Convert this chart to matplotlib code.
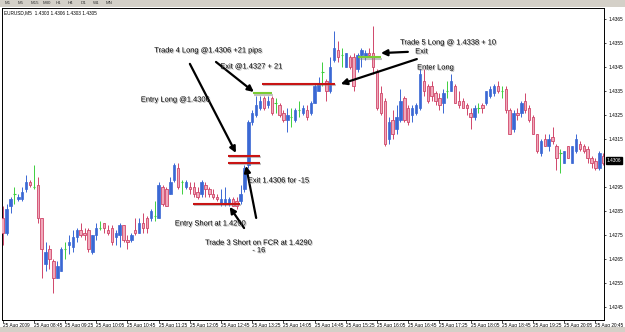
import matplotlib
matplotlib.use("Agg")
import matplotlib.pyplot as plt
import matplotlib.patheffects as pe
import matplotlib.transforms as mtransforms
from matplotlib.patches import Rectangle

plt.rcParams["font.family"] = ["Liberation Sans", "DejaVu Sans"]

# ---- EURUSD M5, 25 Aug 2009 ----
opens = [1.4282, 1.4276, 1.4287, 1.4292, 1.4290, 1.4290, 1.4294, 1.4297, 1.4295, 1.4296,
         1.4282, 1.4263, 1.4269, 1.4264, 1.4257, 1.4260, 1.4269, 1.4271, 1.4270, 1.4274,
         1.4277, 1.4276, 1.4277, 1.4268, 1.4275, 1.4278, 1.4280, 1.4277, 1.4278, 1.4274,
         1.4275, 1.4279, 1.4273, 1.4273, 1.4277, 1.4276, 1.4280, 1.4282, 1.4282, 1.4283,
         1.4282, 1.4295, 1.4294, 1.4292, 1.4298, 1.4303, 1.4297, 1.4295, 1.4295, 1.4295,
         1.4293, 1.4292, 1.4296, 1.4294, 1.4292, 1.4291, 1.4288, 1.4288, 1.4288, 1.4290,
         1.4289, 1.4289, 1.4294, 1.4304, 1.4322, 1.4325, 1.4328, 1.4332, 1.4329, 1.4332,
         1.4330, 1.4329, 1.4326, 1.4323, 1.4324, 1.4323, 1.4327, 1.4326, 1.4327, 1.4326,
         1.4330, 1.4335, 1.4343, 1.4339, 1.4335, 1.4348, 1.4352, 1.4350, 1.4345, 1.4349,
         1.4349, 1.4344, 1.4350, 1.4349, 1.4351, 1.4351, 1.4343, 1.4334, 1.4331, 1.4315,
         1.4323, 1.4319, 1.4323, 1.4332, 1.4328, 1.4325, 1.4326, 1.4328, 1.4339, 1.4337,
         1.4337, 1.4334, 1.4332, 1.4330, 1.4335, 1.4335, 1.4337, 1.4331, 1.4331, 1.4329,
         1.4326, 1.4324, 1.4328, 1.4329, 1.4330, 1.4333, 1.4334, 1.4337, 1.4335, 1.4336,
         1.4327, 1.4319, 1.4326, 1.4326, 1.4331, 1.4328, 1.4324, 1.4317, 1.4309, 1.4315,
         1.4312, 1.4316, 1.4312, 1.4309, 1.4305, 1.4312, 1.4305, 1.4310, 1.4313, 1.4312,
         1.4311, 1.4307, 1.4306, 1.4303, 1.4308]
highs = [1.4287, 1.4288, 1.4291, 1.4295, 1.4292, 1.4295, 1.4300, 1.4298, 1.4304, 1.4299,
         1.4282, 1.4272, 1.4271, 1.4265, 1.4264, 1.4270, 1.4272, 1.4275, 1.4277, 1.4278,
         1.4280, 1.4278, 1.4278, 1.4275, 1.4280, 1.4281, 1.4280, 1.4279, 1.4279, 1.4277,
         1.4280, 1.4279, 1.4275, 1.4276, 1.4282, 1.4282, 1.4284, 1.4283, 1.4286, 1.4289,
         1.4297, 1.4296, 1.4295, 1.4299, 1.4305, 1.4305, 1.4298, 1.4298, 1.4297, 1.4297,
         1.4295, 1.4298, 1.4297, 1.4295, 1.4294, 1.4292, 1.4294, 1.4295, 1.4291, 1.4291,
         1.4291, 1.4296, 1.4304, 1.4323, 1.4327, 1.4333, 1.4333, 1.4333, 1.4333, 1.4333,
         1.4332, 1.4330, 1.4327, 1.4328, 1.4328, 1.4328, 1.4331, 1.4329, 1.4329, 1.4331,
         1.4338, 1.4341, 1.4347, 1.4340, 1.4349, 1.4360, 1.4356, 1.4353, 1.4351, 1.4350,
         1.4351, 1.4351, 1.4353, 1.4352, 1.4353, 1.4362, 1.4344, 1.4337, 1.4332, 1.4324,
         1.4327, 1.4329, 1.4336, 1.4333, 1.4329, 1.4329, 1.4330, 1.4344, 1.4344, 1.4338,
         1.4339, 1.4335, 1.4334, 1.4336, 1.4339, 1.4342, 1.4338, 1.4335, 1.4332, 1.4330,
         1.4328, 1.4329, 1.4330, 1.4330, 1.4335, 1.4337, 1.4338, 1.4339, 1.4337, 1.4337,
         1.4328, 1.4327, 1.4328, 1.4331, 1.4334, 1.4329, 1.4325, 1.4317, 1.4315, 1.4317,
         1.4317, 1.4320, 1.4313, 1.4311, 1.4310, 1.4312, 1.4312, 1.4317, 1.4314, 1.4313,
         1.4312, 1.4308, 1.4307, 1.4310, 1.4309]
lows = [1.4271, 1.4275, 1.4284, 1.4288, 1.4289, 1.4289, 1.4293, 1.4295, 1.4294, 1.4280,
        1.4257, 1.4260, 1.4261, 1.4251, 1.4257, 1.4260, 1.4265, 1.4267, 1.4268, 1.4272,
        1.4274, 1.4273, 1.4268, 1.4267, 1.4273, 1.4277, 1.4276, 1.4275, 1.4271, 1.4271,
        1.4270, 1.4272, 1.4269, 1.4272, 1.4275, 1.4276, 1.4276, 1.4276, 1.4281, 1.4281,
        1.4282, 1.4287, 1.4287, 1.4292, 1.4297, 1.4294, 1.4292, 1.4294, 1.4292, 1.4291,
        1.4290, 1.4291, 1.4291, 1.4291, 1.4290, 1.4289, 1.4287, 1.4287, 1.4287, 1.4287,
        1.4286, 1.4288, 1.4293, 1.4303, 1.4321, 1.4324, 1.4327, 1.4327, 1.4328, 1.4325,
        1.4326, 1.4324, 1.4322, 1.4318, 1.4320, 1.4322, 1.4324, 1.4325, 1.4323, 1.4325,
        1.4330, 1.4335, 1.4337, 1.4331, 1.4334, 1.4347, 1.4347, 1.4345, 1.4345, 1.4344,
        1.4335, 1.4343, 1.4345, 1.4348, 1.4349, 1.4342, 1.4327, 1.4325, 1.4312, 1.4313,
        1.4315, 1.4317, 1.4322, 1.4322, 1.4321, 1.4322, 1.4325, 1.4327, 1.4333, 1.4330,
        1.4331, 1.4329, 1.4327, 1.4326, 1.4332, 1.4335, 1.4330, 1.4328, 1.4328, 1.4325,
        1.4319, 1.4323, 1.4326, 1.4326, 1.4329, 1.4332, 1.4333, 1.4334, 1.4332, 1.4326,
        1.4317, 1.4318, 1.4323, 1.4324, 1.4326, 1.4322, 1.4317, 1.4309, 1.4308, 1.4312,
        1.4310, 1.4313, 1.4302, 1.4301, 1.4305, 1.4307, 1.4305, 1.4309, 1.4310, 1.4309,
        1.4305, 1.4303, 1.4302, 1.4302, 1.4304]
closes = [1.4276, 1.4286, 1.4290, 1.4292, 1.4291, 1.4293, 1.4297, 1.4296, 1.4295, 1.4282,
          1.4269, 1.4268, 1.4265, 1.4257, 1.4262, 1.4269, 1.4269, 1.4272, 1.4274, 1.4277,
          1.4275, 1.4275, 1.4269, 1.4275, 1.4278, 1.4278, 1.4278, 1.4276, 1.4272, 1.4276,
          1.4279, 1.4273, 1.4272, 1.4275, 1.4276, 1.4280, 1.4278, 1.4278, 1.4285, 1.4283,
          1.4296, 1.4288, 1.4287, 1.4297, 1.4304, 1.4295, 1.4297, 1.4297, 1.4294, 1.4292,
          1.4291, 1.4297, 1.4294, 1.4292, 1.4291, 1.4290, 1.4290, 1.4290, 1.4290, 1.4287,
          1.4287, 1.4292, 1.4303, 1.4322, 1.4326, 1.4329, 1.4331, 1.4328, 1.4331, 1.4326,
          1.4330, 1.4325, 1.4323, 1.4325, 1.4324, 1.4327, 1.4327, 1.4328, 1.4324, 1.4330,
          1.4337, 1.4338, 1.4343, 1.4335, 1.4345, 1.4353, 1.4349, 1.4350, 1.4351, 1.4345,
          1.4337, 1.4350, 1.4352, 1.4351, 1.4350, 1.4345, 1.4328, 1.4326, 1.4313, 1.4322,
          1.4317, 1.4324, 1.4331, 1.4323, 1.4322, 1.4328, 1.4329, 1.4342, 1.4335, 1.4331,
          1.4333, 1.4331, 1.4329, 1.4334, 1.4335, 1.4339, 1.4330, 1.4329, 1.4328, 1.4328,
          1.4324, 1.4328, 1.4328, 1.4328, 1.4335, 1.4336, 1.4337, 1.4335, 1.4335, 1.4327,
          1.4317, 1.4326, 1.4325, 1.4330, 1.4327, 1.4323, 1.4317, 1.4310, 1.4314, 1.4312,
          1.4315, 1.4314, 1.4307, 1.4309, 1.4310, 1.4307, 1.4312, 1.4315, 1.4311, 1.4310,
          1.4307, 1.4305, 1.4303, 1.4309, 1.4305]

time_labels = ["25 Aug 2009", "25 Aug 08:45", "25 Aug 09:25", "25 Aug 10:05", "25 Aug 10:45",
               "25 Aug 11:25", "25 Aug 12:05", "25 Aug 12:45", "25 Aug 13:25", "25 Aug 14:05",
               "25 Aug 14:45", "25 Aug 15:25", "25 Aug 16:05", "25 Aug 16:45", "25 Aug 17:25",
               "25 Aug 18:05", "25 Aug 18:45", "25 Aug 19:25", "25 Aug 20:05", "25 Aug 20:45"]
bars_per_label = 8
price_ticks = [1.4365, 1.4355, 1.4345, 1.4335, 1.4325, 1.4315,
               1.4295, 1.4285, 1.4275, 1.4265, 1.4255, 1.4245]
last_price = 1.4306

# niveles de las operaciones: (barra inicio, barra fin, precio, color)
trade_levels = [(66.5, 85.2, 1.4338, "#c81414"),
                (57.8, 66.0, 1.4308, "#c81414"),
                (57.8, 66.0, 1.4305, "#c81414"),
                (48.8, 60.8, 1.4288, "#c81414"),
                (64.2, 69.1, 1.4334, "#7acc35"),
                (91.1, 97.0, 1.4349, "#7acc35")]

# textos: (texto, barra, precio)
notes = [("Trade 4 Long @1.4306 +21 pips", 52.8, 1.43517),
         ("Entry Long @1.4306", 44.3, 1.43312),
         ("Exit @1.4327 + 21", 63.8, 1.43450),
         ("Trade 5 Long @ 1.4338 + 10", 114.3, 1.43550),
         ("Exit", 107.4, 1.43513),
         ("Enter Long", 111.0, 1.43446),
         ("Exit 1.4306 for -15", 70.8, 1.42975),
         ("Entry Short at 1.4290", 53.3, 1.42796),
         ("Trade 3 Short on FCR at 1.4290\n- 16", 65.7, 1.42700)]

# flechas: (cola barra, cola precio, punta barra, punta precio)
arrows = [(48.0, 1.43463, 59.8, 1.43092),
          (65.0, 1.42821, 62.4, 1.43038),
          (61.9, 1.42779, 58.2, 1.42867),
          (54.7, 1.43471, 64.4, 1.43346),
          (103.9, 1.43513, 97.0, 1.43508),
          (106.2, 1.43483, 86.7, 1.43379)]

BULL = "#3a68d4"
BEAR_EDGE = "#d0466a"
BEAR_FACE = "#f0a9bb"
DOJI = "#3fcf3f"

fig = plt.figure(figsize=(6.25, 3.32), dpi=100)
fig.patches.append(Rectangle((0, 1 - 7 / 332), 1, 7 / 332, transform=fig.transFigure,
                             facecolor="#d4d0c8", edgecolor="none"))
fig.patches.append(Rectangle((0, 0), 1, 5 / 332, transform=fig.transFigure,
                             facecolor="#d4d0c8", edgecolor="none"))
tf_names = ["M1", "M5", "M15", "M30", "H1", "H4", "D1", "W1", "MN"]
for k, name in enumerate(tf_names):
    fig.text((5 + 12.6 * k) / 625, 1 - 3 / 332, name, fontsize=3.2, color="#333333",
             va="center", ha="left")

ax = fig.add_axes([2 / 625, 12 / 332, 602 / 625, 312 / 332])
ax.set_xlim(-0.18, 154.2)
ax.set_ylim(1.423958, 1.436958)

w = 0.62
for i in range(len(opens)):
    o, h, l, c = opens[i], highs[i], lows[i], closes[i]
    if c > o:
        ax.vlines(i, l, h, color=BULL, lw=0.7, zorder=2)
        ax.bar(i, c - o, w, bottom=o, color=BULL, edgecolor=BULL, lw=0.5, zorder=3)
    elif c < o:
        ax.vlines(i, l, h, color=BEAR_EDGE, lw=0.7, zorder=2)
        ax.bar(i, o - c, w, bottom=c, color=BEAR_FACE, edgecolor=BEAR_EDGE, lw=0.6, zorder=3)
    else:
        ax.vlines(i, l, h, color=DOJI, lw=0.7, zorder=2)
        ax.hlines(o, i - w / 2, i + w / 2, color=DOJI, lw=0.8, zorder=3)

shadow = [pe.SimpleLineShadow(offset=(0.8, -0.8), shadow_color="#888888", alpha=0.5), pe.Normal()]
for x0, x1, p, col in trade_levels:
    ax.hlines(p, x0, x1, color=col, lw=1.5, zorder=4, path_effects=shadow)

txt_fx = [pe.withSimplePatchShadow(offset=(0.7, -0.7), shadow_rgbFace="#777777", alpha=0.6)]
for t, x, y in notes:
    ax.text(x, y, t, fontsize=5.4, ha="center", va="center", color="black",
            zorder=6, path_effects=txt_fx, linespacing=1.1)

for tx, ty, hx, hy in arrows:
    ax.annotate("", xy=(hx, hy), xytext=(tx, ty), zorder=5,
                arrowprops=dict(arrowstyle="-|>", color="black", lw=1.6,
                                mutation_scale=9, shrinkA=0, shrinkB=0))

# eje de precios a la derecha
ax.yaxis.tick_right()
ax.set_yticks(price_ticks)
ax.set_yticklabels([f"{p:.4f}" for p in price_ticks])
ax.tick_params(axis="y", labelsize=3.4, length=1.5, width=0.5, pad=1.5, colors="black")
trans = mtransforms.blended_transform_factory(ax.transAxes, ax.transData)
ax.text(1.004, last_price, f"{last_price:.4f}", transform=trans, fontsize=3.4,
        color="white", va="center", ha="left",
        bbox=dict(boxstyle="square,pad=0.15", facecolor="black", edgecolor="black"))

# eje de tiempo
ax.set_xticks([k * bars_per_label for k in range(len(time_labels))])
ax.set_xticklabels(time_labels, ha="left")
ax.tick_params(axis="x", labelsize=3.4, length=2, width=0.5, pad=0.5, direction="out")

for s in ax.spines.values():
    s.set_linewidth(0.7)
    s.set_color("black")

ax.text(0.003, 0.986, "EURUSD,M5  1.4303 1.4306 1.4303 1.4305", transform=ax.transAxes,
        fontsize=3.4, va="center", ha="left", color="black")

fig.savefig("out.png", dpi=100)
